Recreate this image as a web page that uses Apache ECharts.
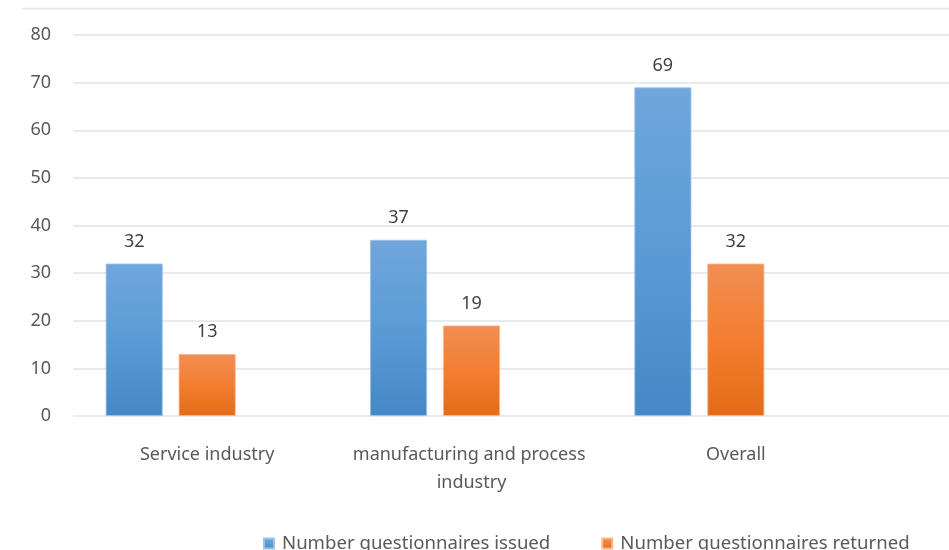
<!DOCTYPE html>
<html>
<head>
<meta charset="utf-8">
<title>Questionnaires</title>
<script src="https://cdn.jsdelivr.net/npm/echarts@6/dist/echarts.min.js"></script>
<style>
  html, body { margin: 0; padding: 0; background: #fff; }
  #chartBox { width: 949px; height: 550px; }
</style>
</head>
<body>
<div id="chartBox"></div>
<script>
// 类别
const categories = ['Service industry', 'manufacturing and process industry', 'Overall'];
// 已发放
const issued = [32, 37, 69];
// 已回收
const returned = [13, 19, 32];
const seriesNames = ['Number questionnaires issued', 'Number questionnaires returned'];
const yMin = 0;
const yMax = 80;
const yStep = 10;

const textColor = '#595959';
const fontFamily = '"Noto Sans", "Open Sans", sans-serif';

const grad = (top, mid, bottom) =>
  new echarts.graphic.LinearGradient(0, 0, 0, 1, [
    { offset: 0, color: top },
    { offset: 0.5, color: mid },
    { offset: 1, color: bottom }
  ]);

const barLabel = {
  show: true,
  position: 'top',
  distance: 13,
  color: '#404040',
  fontSize: 18,
  fontFamily: fontFamily
};

const getOptions = () => {
  return {
    animation: false,
    legend: {
      data: seriesNames,
      left: 258,
      top: 529,
      itemWidth: 10,
      itemHeight: 10,
      itemGap: 51,
      icon: 'rect',
      textStyle: { color: textColor, fontSize: 18.6, fontFamily: fontFamily, padding: [0, 0, 0, 3] }
    },
    graphic: [
      {
        type: 'line',
        shape: { x1: 22, y1: 8.5, x2: 949, y2: 8.5 },
        style: { stroke: '#E1E4EA', lineWidth: 1.5 }
      }
    ],
    grid: [
      { left: 75, right: 81, top: 35, bottom: 134 },
      // 只画横向网格线，铺满右侧
      { left: 73, right: 0, top: 35, bottom: 134 }
    ],
    xAxis: [
      {
        type: 'category',
        data: categories,
        gridIndex: 0,
        axisLine: { show: false },
        axisTick: { show: false },
        axisLabel: {
          color: textColor,
          fontSize: 18,
          fontFamily: fontFamily,
          margin: 25,
          lineHeight: 28,
          width: 255,
          overflow: 'break',
          interval: 0
        }
      },
      { type: 'value', gridIndex: 1, show: false, min: 0, max: 1 }
    ],
    yAxis: [
      {
        type: 'value',
        gridIndex: 0,
        min: yMin,
        max: yMax,
        interval: yStep,
        splitLine: { show: false },
        axisLine: { show: false },
        axisTick: { show: false },
        axisLabel: { color: textColor, fontSize: 18, fontFamily: fontFamily, margin: 24 }
      },
      {
        type: 'value',
        gridIndex: 1,
        min: yMin,
        max: yMax,
        interval: yStep,
        axisLine: { show: false },
        axisTick: { show: false },
        axisLabel: { show: false },
        splitLine: { lineStyle: { color: '#DFE3EA', width: 1.5 } }
      }
    ],
    series: [
      {
        name: seriesNames[0],
        type: 'bar',
        barWidth: 57,
        barGap: '28%',
        itemStyle: {
          color: grad('#70A6DC', '#5B9BD5', '#4588C7'),
          borderColor: '#9DC3E6',
          borderWidth: 0.8
        },
        label: barLabel,
        data: issued,
        z: 3
      },
      {
        name: seriesNames[1],
        type: 'bar',
        barWidth: 57,
        barGap: '28%',
        itemStyle: {
          color: grad('#F18E53', '#F47D30', '#E46C17'),
          borderColor: '#F8B88C',
          borderWidth: 0.8
        },
        label: barLabel,
        data: returned,
        z: 3
      },
      // 空系列，占位
      {
        name: 'placeholder',
        type: 'bar',
        barWidth: 57,
        barGap: '28%',
        data: [],
        z: 3
      }
    ],
    color: ['#5B9BD5', '#ED7D31', '#A5A5A5']
  };
};

var myChart = echarts.init(document.getElementById('chartBox'));
myChart.setOption(getOptions(), true);
</script>
</body>
</html>
